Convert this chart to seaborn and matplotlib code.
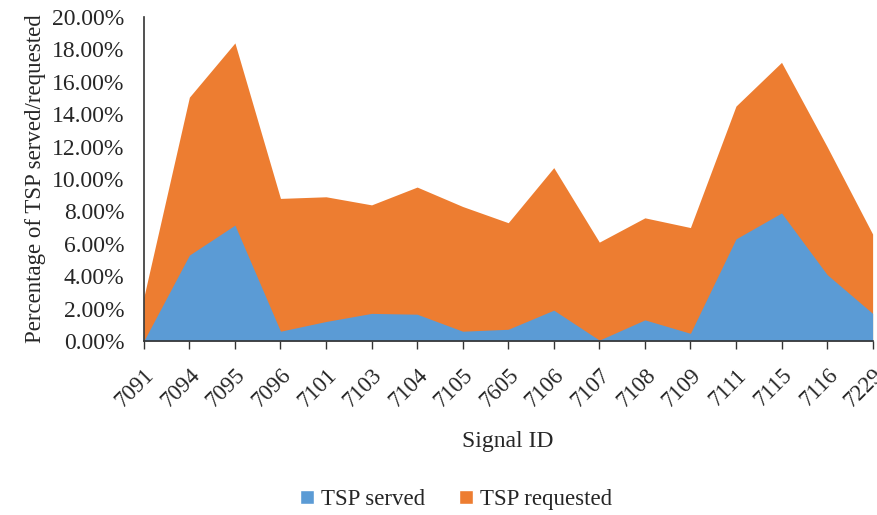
import matplotlib
matplotlib.use("Agg")
import matplotlib.pyplot as plt
import seaborn as sns
import pandas as pd
import numpy as np
from matplotlib.patches import Patch

signals = ["7091", "7094", "7095", "7096", "7101", "7103", "7104", "7105", "7605",
           "7106", "7107", "7108", "7109", "7111", "7115", "7116", "7229"]
tsp_requested = [2.7, 15.05, 18.4, 8.8, 8.9, 8.4, 9.5, 8.3, 7.3,
                 10.7, 6.1, 7.6, 7.0, 14.5, 17.2, 12.0, 6.6]
tsp_served = [0.0, 5.3, 7.15, 0.6, 1.2, 1.7, 1.65, 0.6, 0.72,
              1.9, 0.05, 1.3, 0.47, 6.3, 7.9, 4.1, 1.7]

df = pd.DataFrame({"signal": signals, "pos": range(len(signals)),
                   "served": tsp_served, "requested": tsp_requested})

sns.set_style("white")
plt.rcParams["font.family"] = ["Liberation Serif", "DejaVu Serif"]

blue = "#5B9BD5"
orange = "#ED7D31"

fig = plt.figure(figsize=(8.77, 5.15), dpi=100)
ax = fig.add_axes([0.164, 0.338, 0.831, 0.629])

sns.lineplot(data=df, x="pos", y="requested", ax=ax, color=orange, linewidth=0)
sns.lineplot(data=df, x="pos", y="served", ax=ax, color=blue, linewidth=0)
ax.fill_between(df["pos"], 0, df["requested"], color=orange, linewidth=0)
ax.fill_between(df["pos"], 0, df["served"], color=blue, linewidth=0)

ax.set_xlim(0, len(signals) - 1)
ax.set_ylim(0, 20)
ax.set_yticks(np.arange(0, 20.01, 2))
ax.set_yticklabels([f"{v:.2f}%" for v in np.arange(0, 20.01, 2)], fontsize=17)
ax.set_xticks(df["pos"])
ax.set_xticklabels(signals, rotation=45, ha="right", rotation_mode="anchor", fontsize=16.5)

ax.tick_params(axis="x", direction="out", length=6, width=1, color="#333333", bottom=True, pad=11)
ax.tick_params(axis="y", length=0, pad=14)

for s in ["top", "right"]:
    ax.spines[s].set_visible(False)
for s in ["left", "bottom"]:
    ax.spines[s].set_color("#333333")
    ax.spines[s].set_linewidth(1.2)

ax.set_xlabel("Signal ID", fontsize=17, labelpad=14)
ax.set_ylabel("Percentage of TSP served/requested", fontsize=16.5, labelpad=4)

handles = [Patch(facecolor=blue, label="TSP served"),
           Patch(facecolor=orange, label="TSP requested")]
fig.legend(handles=handles, loc="center", bbox_to_anchor=(0.52, 0.03), ncol=2,
           frameon=False, fontsize=16.5, handlelength=0.6, handleheight=0.6,
           handletextpad=0.3, columnspacing=1.5)

fig.savefig("out.png", dpi=100)
